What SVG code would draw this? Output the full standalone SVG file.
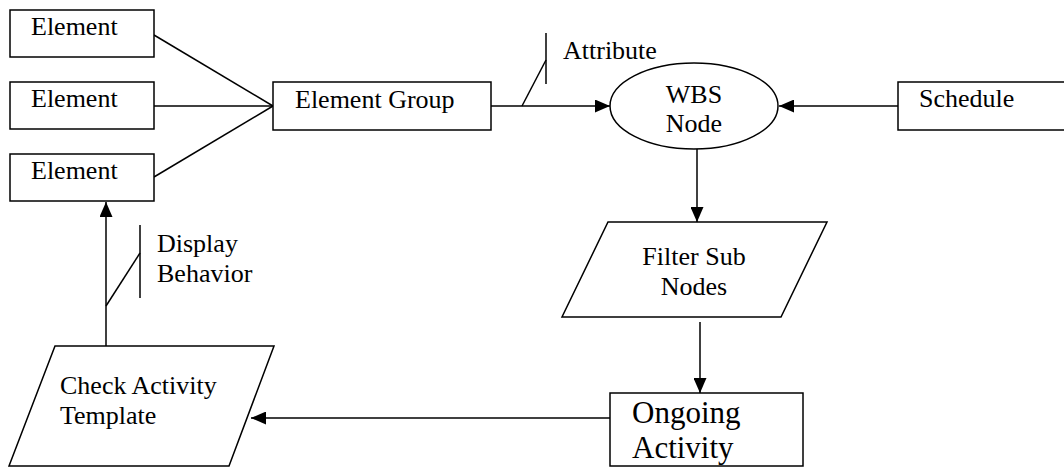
<svg xmlns="http://www.w3.org/2000/svg" width="1064" height="468" viewBox="0 0 1064 468">
<style>
.s{fill:#fff;stroke:#000;stroke-width:1.5}
.l{fill:none;stroke:#000;stroke-width:1.5}
text{font-family:"Liberation Serif","Times New Roman",serif;font-size:26px;fill:#000}
.big{font-size:31px}
</style>
<defs>
<marker id="ah" markerWidth="15" markerHeight="13" refX="15" refY="6.5" orient="auto" markerUnits="userSpaceOnUse">
<path d="M0,0 L15,6.5 L0,13 Z" fill="#000"/>
</marker>
</defs>
<rect width="1064" height="468" fill="#fff"/>
<g id="connectors">
<line class="l" x1="154" y1="35" x2="273" y2="106"/>
<line class="l" x1="154" y1="106" x2="273" y2="106"/>
<line class="l" x1="154" y1="177" x2="273" y2="106"/>
<line class="l" x1="491" y1="106" x2="610" y2="106" marker-end="url(#ah)"/>
<polyline class="l" points="522,106 546,60"/>
<line class="l" x1="546" y1="33" x2="546" y2="84"/>
<line class="l" x1="898" y1="106" x2="779" y2="106" marker-end="url(#ah)"/>
<line class="l" x1="697" y1="149" x2="697" y2="222" marker-end="url(#ah)"/>
<line class="l" x1="700" y1="322" x2="700" y2="393" marker-end="url(#ah)"/>
<line class="l" x1="610" y1="418" x2="251" y2="418" marker-end="url(#ah)"/>
<line class="l" x1="106" y1="346" x2="106" y2="202" marker-end="url(#ah)"/>
<line class="l" x1="106" y1="306" x2="140" y2="253"/>
<line class="l" x1="140" y1="225" x2="140" y2="298"/>
<text x="563" y="59">Attribute</text>
<text x="157" y="252">Display</text>
<text x="157" y="282">Behavior</text>
</g>
<g id="element1"><rect class="s" x="10" y="10" width="144" height="47"/><text x="31" y="35">Element</text></g>
<g id="element2"><rect class="s" x="10" y="82" width="144" height="47"/><text x="31" y="107">Element</text></g>
<g id="element3"><rect class="s" x="10" y="154" width="144" height="47"/><text x="31" y="179">Element</text></g>
<g id="elementGroup"><rect class="s" x="273" y="82" width="218" height="48"/><text x="295" y="108">Element Group</text></g>
<g id="wbsNode"><ellipse class="s" cx="694" cy="106" rx="84" ry="43"/><text x="694" y="103" text-anchor="middle">WBS</text><text x="694" y="132" text-anchor="middle">Node</text></g>
<g id="schedule"><rect class="s" x="898" y="82" width="175" height="48"/><text x="919" y="107">Schedule</text></g>
<g id="filterSubNodes"><polygon class="s" points="608,222 827,222 781,317 562,317"/><text x="694" y="265" text-anchor="middle">Filter Sub</text><text x="694" y="295" text-anchor="middle">Nodes</text></g>
<g id="ongoingActivity"><rect class="s" x="610" y="393" width="193" height="73"/><text class="big" x="632" y="423">Ongoing</text><text class="big" x="632" y="458">Activity</text></g>
<g id="checkActivityTemplate"><polygon class="s" points="55,346 274,346 229,466 9,466"/><text x="60" y="394">Check Activity</text><text x="60" y="424">Template</text></g>
</svg>
